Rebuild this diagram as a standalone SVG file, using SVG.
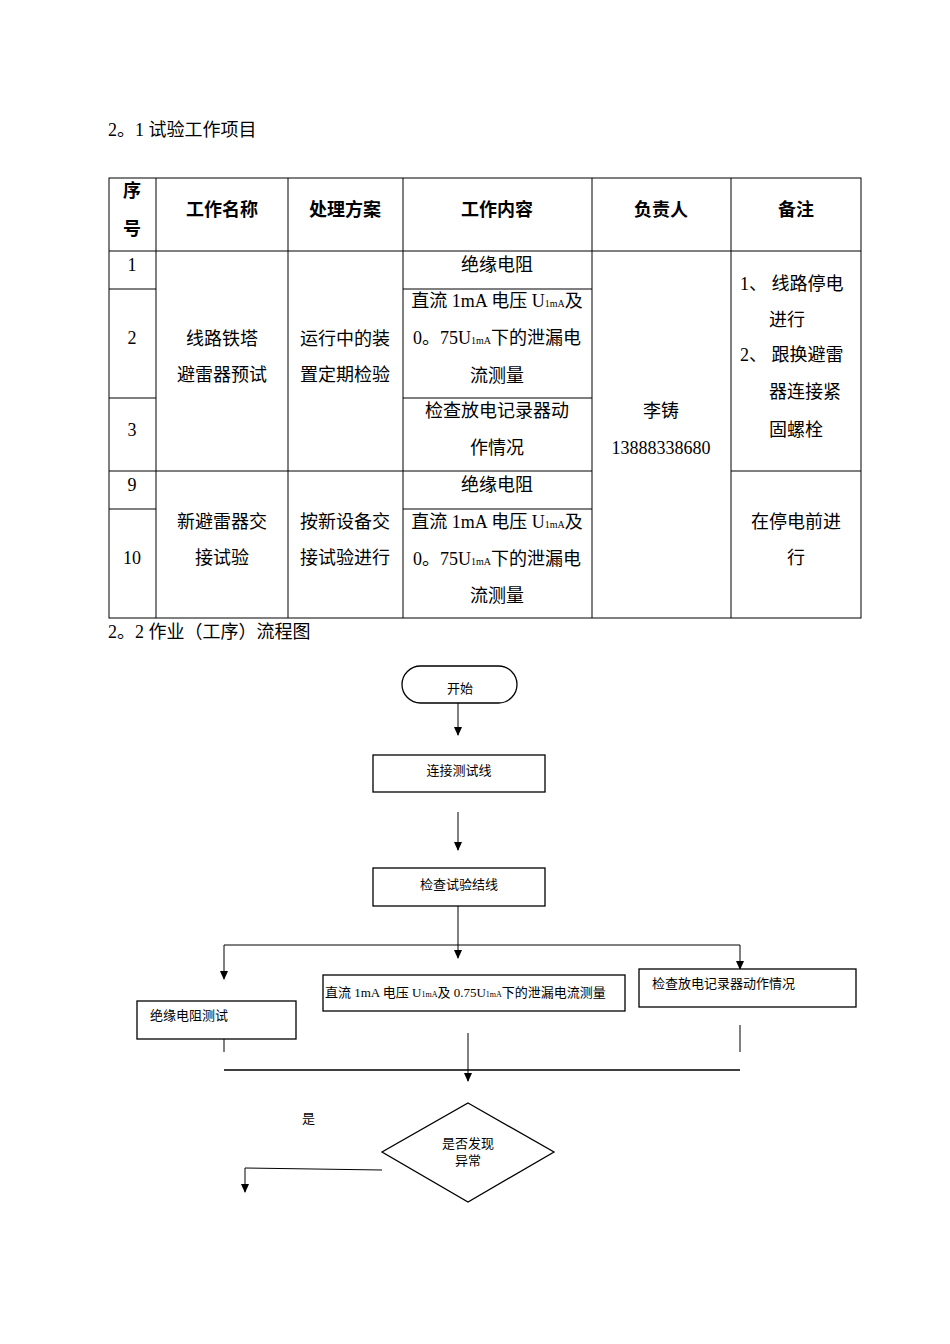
<svg xmlns="http://www.w3.org/2000/svg" width="950" height="1344" viewBox="0 0 950 1344">
<style>
.t{font-family:"Liberation Serif","Noto Sans CJK SC",serif;font-size:18px;fill:#000;text-anchor:middle}
.h{font-family:"Noto Sans CJK SC",sans-serif;font-size:18px;font-weight:bold;fill:#000;text-anchor:middle}
.f{font-family:"Liberation Serif","Noto Sans CJK SC",serif;font-size:13px;fill:#000}
.ln{stroke:#000;stroke-width:1;fill:none}
.bx{stroke:#000;stroke-width:1.3;fill:#fff}
</style>
<defs><marker id="a" markerWidth="10" markerHeight="10" refX="8" refY="5" orient="auto" markerUnits="userSpaceOnUse"><path d="M0,1 L9,5 L0,9 Z" fill="#000"/></marker></defs>
<rect width="950" height="1344" fill="#fff"/>
<text class="t" x="108" y="136" style="text-anchor:start">2。1 试验工作项目</text>
<g id="table">
<g class="ln">
<rect x="109" y="178" width="752" height="440"/>
<line x1="109" y1="251" x2="861" y2="251"/>
<line x1="156" y1="178" x2="156" y2="618"/><line x1="288" y1="178" x2="288" y2="618"/>
<line x1="403" y1="178" x2="403" y2="618"/><line x1="592" y1="178" x2="592" y2="618"/>
<line x1="731" y1="178" x2="731" y2="618"/>
<line x1="109" y1="289" x2="156" y2="289"/><line x1="109" y1="398" x2="156" y2="398"/>
<line x1="109" y1="471" x2="592" y2="471"/><line x1="109" y1="509" x2="156" y2="509"/>
<line x1="403" y1="289" x2="592" y2="289"/><line x1="403" y1="398" x2="592" y2="398"/>
<line x1="403" y1="509" x2="592" y2="509"/><line x1="731" y1="471" x2="861" y2="471"/>
</g>
<text class="h" x="132" y="197">序</text><text class="h" x="132" y="235">号</text>
<text class="h" x="222" y="216">工作名称</text><text class="h" x="345" y="216">处理方案</text>
<text class="h" x="497" y="216">工作内容</text><text class="h" x="661" y="216">负责人</text>
<text class="h" x="796" y="216">备注</text>
<text class="t" x="132" y="271">1</text><text class="t" x="132" y="344">2</text><text class="t" x="132" y="436">3</text>
<text class="t" x="132" y="491">9</text><text class="t" x="132" y="564">10</text>
<text class="t" x="222" y="345">线路铁塔</text><text class="t" x="222" y="381">避雷器预试</text>
<text class="t" x="345" y="345">运行中的装</text><text class="t" x="345" y="381">置定期检验</text>
<text class="t" x="497" y="271">绝缘电阻</text>
<text class="t" x="497" y="307">直流 1mA 电压 U<tspan font-size="10">1mA</tspan>及</text>
<text class="t" x="497" y="344">0。75U<tspan font-size="10">1mA</tspan>下的泄漏电</text>
<text class="t" x="497" y="382">流测量</text>
<text class="t" x="497" y="417">检查放电记录器动</text><text class="t" x="497" y="454">作情况</text>
<text class="t" x="661" y="417">李铸</text><text class="t" x="661" y="454">13888338680</text>
<text class="t" x="740" y="290" style="text-anchor:start">1、 线路停电</text>
<text class="t" x="769" y="326" style="text-anchor:start">进行</text>
<text class="t" x="740" y="361" style="text-anchor:start">2、 跟换避雷</text>
<text class="t" x="769" y="398" style="text-anchor:start">器连接紧</text>
<text class="t" x="769" y="436" style="text-anchor:start">固螺栓</text>
<text class="t" x="222" y="528">新避雷器交</text><text class="t" x="222" y="564">接试验</text>
<text class="t" x="345" y="528">按新设备交</text><text class="t" x="345" y="564">接试验进行</text>
<text class="t" x="497" y="491">绝缘电阻</text>
<text class="t" x="497" y="528">直流 1mA 电压 U<tspan font-size="10">1mA</tspan>及</text>
<text class="t" x="497" y="565">0。75U<tspan font-size="10">1mA</tspan>下的泄漏电</text>
<text class="t" x="497" y="602">流测量</text>
<text class="t" x="796" y="528">在停电前进</text><text class="t" x="796" y="564">行</text>
</g>
<text class="t" x="108" y="638" style="text-anchor:start">2。2 作业（工序）流程图</text>
<g id="connectors" class="ln">
<line x1="458" y1="700" x2="458" y2="735" marker-end="url(#a)"/>
<line x1="458" y1="812" x2="458" y2="850" marker-end="url(#a)"/>
<line x1="458" y1="906" x2="458" y2="958" marker-end="url(#a)"/>
<line x1="224" y1="945" x2="740" y2="945"/>
<line x1="224" y1="945" x2="224" y2="979" marker-end="url(#a)"/>
<line x1="740" y1="945" x2="740" y2="969" marker-end="url(#a)"/>
<line x1="224" y1="1039" x2="224" y2="1052"/>
<line x1="740" y1="1025" x2="740" y2="1052"/>
<line x1="468" y1="1033" x2="468" y2="1081" marker-end="url(#a)"/>
<line x1="224" y1="1070" x2="740" y2="1070" stroke-width="1.3"/>
<polyline points="382,1170 245,1168 245,1192" marker-end="url(#a)"/>
</g>
<g id="start"><rect class="bx" x="402" y="666" width="115" height="37" rx="18.5"/><text class="f" x="460" y="693" text-anchor="middle">开始</text></g>
<g id="n1"><rect class="bx" x="373" y="755" width="172" height="37"/><text class="f" x="459" y="775" text-anchor="middle">连接测试线</text></g>
<g id="n2"><rect class="bx" x="373" y="868" width="172" height="38"/><text class="f" x="459" y="889" text-anchor="middle">检查试验结线</text></g>
<g id="n3"><rect class="bx" x="137" y="1001" width="159" height="38"/><text class="f" x="150" y="1020">绝缘电阻测试</text></g>
<g id="n4"><rect class="bx" x="323" y="975" width="302" height="36"/><text class="f" x="325" y="997">直流 1mA 电压 U<tspan font-size="8">1mA</tspan>及 0.75U<tspan font-size="8">1mA</tspan>下的泄漏电流测量</text></g>
<g id="n5"><rect class="bx" x="639" y="969" width="217" height="38"/><text class="f" x="652" y="988">检查放电记录器动作情况</text></g>
<g id="d1"><polygon class="bx" points="468,1103 554,1152 468,1202 382,1152"/><text class="f" x="468" y="1148" text-anchor="middle">是否发现</text><text class="f" x="468" y="1165" text-anchor="middle">异常</text></g>
<text class="f" x="302" y="1123">是</text>
</svg>
